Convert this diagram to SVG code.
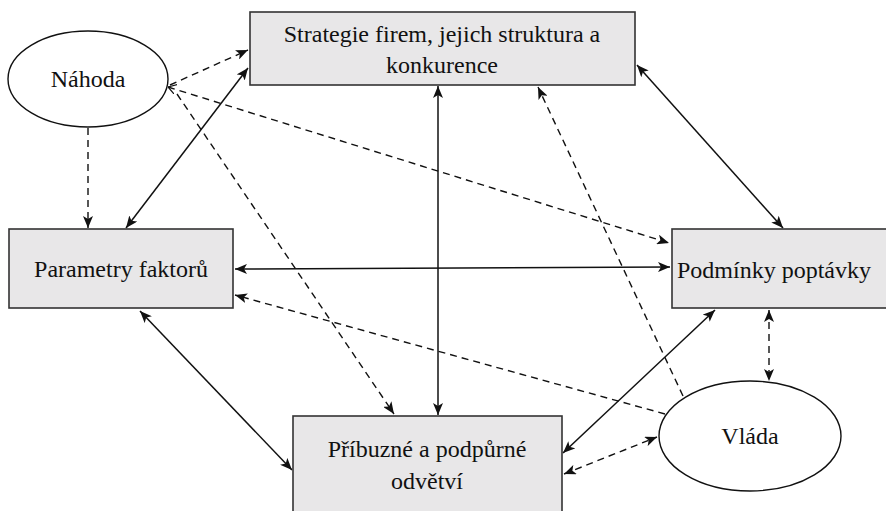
<svg xmlns="http://www.w3.org/2000/svg" width="886" height="511" viewBox="0 0 886 511">
<defs>
<style>
.box{fill:#e8e7e8;stroke:#333;stroke-width:1.6}
.ell{fill:#fff;stroke:#111;stroke-width:1.4}
.t{font-family:'Liberation Serif','Times New Roman',serif;font-size:24px;fill:#111;text-anchor:middle}
.s{fill:none;stroke:#111;stroke-width:1.5}
.d{fill:none;stroke:#111;stroke-width:1.4;stroke-dasharray:7 5}
</style>
<marker id="a" viewBox="0 0 12 10" refX="12" refY="5" markerWidth="12" markerHeight="10" markerUnits="userSpaceOnUse" orient="auto-start-reverse">
<path d="M0,0 L12,5 L0,10 L3,5 Z" fill="#111"/>
</marker>
<marker id="o" viewBox="0 0 8 10" refX="8" refY="5" markerWidth="8" markerHeight="10" markerUnits="userSpaceOnUse" orient="auto-start-reverse">
<path d="M0,0 L8,5 L0,10" fill="none" stroke="#111" stroke-width="1.2"/>
</marker>
</defs>
<rect width="886" height="511" fill="#fff"/>
<g id="connectors">
<line class="d" x1="170" y1="85" x2="248" y2="50" marker-end="url(#a)"/>
<line class="d" x1="168" y1="87" x2="669" y2="243" marker-start="url(#o)" marker-end="url(#a)"/>
<line class="d" x1="177" y1="94" x2="394" y2="414" marker-end="url(#a)"/>
<line class="d" x1="88" y1="128" x2="88" y2="228" marker-end="url(#a)"/>
<line class="s" x1="248" y1="68" x2="126" y2="228" marker-start="url(#a)" marker-end="url(#a)"/>
<line class="s" x1="637" y1="65" x2="783" y2="228" marker-start="url(#a)" marker-end="url(#a)"/>
<line class="s" x1="438" y1="86" x2="438" y2="415" marker-start="url(#a)" marker-end="url(#a)"/>
<line class="d" x1="683" y1="396" x2="538" y2="87" marker-end="url(#a)"/>
<line class="s" x1="235" y1="269" x2="670" y2="267" marker-start="url(#a)" marker-end="url(#a)"/>
<line class="d" x1="665" y1="414" x2="235" y2="295" marker-end="url(#a)"/>
<line class="s" x1="140" y1="311" x2="292" y2="470" marker-start="url(#a)" marker-end="url(#a)"/>
<line class="s" x1="563" y1="453" x2="715" y2="310" marker-start="url(#a)" marker-end="url(#a)"/>
<line class="d" x1="564" y1="474" x2="657" y2="437" marker-start="url(#a)" marker-end="url(#a)"/>
<line class="d" x1="769" y1="310" x2="769" y2="381" marker-start="url(#a)" marker-end="url(#a)"/>
</g>
<g id="nahoda">
<ellipse class="ell" cx="88" cy="79" rx="80" ry="48"/>
<text class="t" x="88" y="87">Náhoda</text>
</g>
<g id="strategie">
<rect class="box" x="250" y="12" width="385" height="73"/>
<text class="t" x="442" y="42">Strategie firem, jejich struktura a</text>
<text class="t" x="442" y="73">konkurence</text>
</g>
<g id="parametry">
<rect class="box" x="9" y="229" width="224" height="79"/>
<text class="t" x="121" y="277">Parametry faktorů</text>
</g>
<g id="podminky">
<rect class="box" x="672" y="229" width="220" height="79"/>
<text class="t" x="677" y="278" style="text-anchor:start">Podmínky poptávky</text>
</g>
<g id="pribuzne">
<rect class="box" x="293" y="416" width="269" height="100"/>
<text class="t" x="427" y="457">Příbuzné a podpůrné</text>
<text class="t" x="427" y="489">odvětví</text>
</g>
<g id="vlada">
<ellipse class="ell" cx="750" cy="436" rx="91" ry="55"/>
<text class="t" x="750" y="444">Vláda</text>
</g>
</svg>
